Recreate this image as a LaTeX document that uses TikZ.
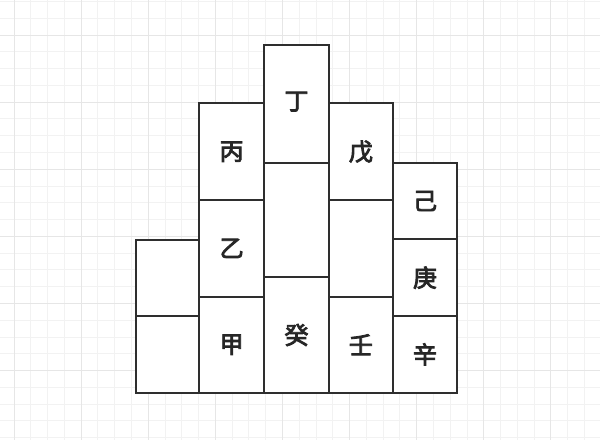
\documentclass[tikz,border=0pt]{standalone}
\usepackage{fontspec}
\newfontfamily\cjk[FakeBold=3.5]{Noto Sans CJK SC}
\definecolor{minorgrid}{HTML}{F2F2F2}
\definecolor{majorgrid}{HTML}{E6E6E6}
\definecolor{edge}{HTML}{2E2E2E}
\begin{document}
\begin{tikzpicture}[x=1pt,y=-1pt,
  cell/.style={draw=edge,line width=1.7pt},
  lab/.style={font=\cjk\fontsize{24}{24}\selectfont,text=black!85}]
\useasboundingbox (0,0) rectangle (600,440);
\fill[white] (0,0) rectangle (600,440);
% minor grid
\foreach \i in {0,...,37} {
  \draw[minorgrid,line width=1pt] ({-2.78+16.78*\i},0) -- ({-2.78+16.78*\i},440);
}
\foreach \i in {0,...,27} {
  \draw[minorgrid,line width=1pt] (0,{1.44+16.78*\i}) -- (600,{1.44+16.78*\i});
}
% major grid
\foreach \i in {0,...,9} {
  \draw[majorgrid,line width=1pt] ({14+67.1*\i},0) -- ({14+67.1*\i},440);
}
\foreach \i in {0,...,6} {
  \draw[majorgrid,line width=1pt] (0,{35+67.1*(\i-1)}) -- (600,{35+67.1*(\i-1)});
}
% white backing of the block
\fill[white] (135.7,240) -- (199.3,240) -- (199.3,103.3) -- (264,103.3) -- (264,44.7)
  -- (329,44.7) -- (329,103.3) -- (392.7,103.3) -- (392.7,162.7) -- (457.3,162.7)
  -- (457.3,392.7) -- (135.7,392.7) -- cycle;
% column 1
\draw[cell] (135.7,240) rectangle (199.3,316) node[midway] (a1) {};
\draw[cell] (135.7,316) rectangle (199.3,392.7) node[midway] (a2) {};
% column 2
\draw[cell] (199.3,103.3) rectangle (264,200) node[midway,lab] (bing) {丙};
\draw[cell] (199.3,200) rectangle (264,296.7) node[midway,lab] (yi) {乙};
\draw[cell] (199.3,296.7) rectangle (264,392.7) node[midway,lab] (jia) {甲};
% column 3
\draw[cell] (264,44.7) rectangle (329,162.7) node[midway,lab,yshift=2pt] (ding) {丁};
\draw[cell] (264,162.7) rectangle (329,277.3) node[midway] (c2) {};
\draw[cell] (264,277.3) rectangle (329,392.7) node[midway,lab] (gui) {癸};
% column 4
\draw[cell] (329,103.3) rectangle (392.7,200) node[midway,lab] (wu) {戊};
\draw[cell] (329,200) rectangle (392.7,296.7) node[midway] (d2) {};
\draw[cell] (329,296.7) rectangle (392.7,392.7) node[midway,lab] (ren) {壬};
% column 5
\draw[cell] (392.7,162.7) rectangle (457.3,239.3) node[midway,lab] (ji) {己};
\draw[cell] (392.7,239.3) rectangle (457.3,316) node[midway,lab] (geng) {庚};
\draw[cell] (392.7,316) rectangle (457.3,392.7) node[midway,lab] (xin) {辛};
\end{tikzpicture}
\end{document}
